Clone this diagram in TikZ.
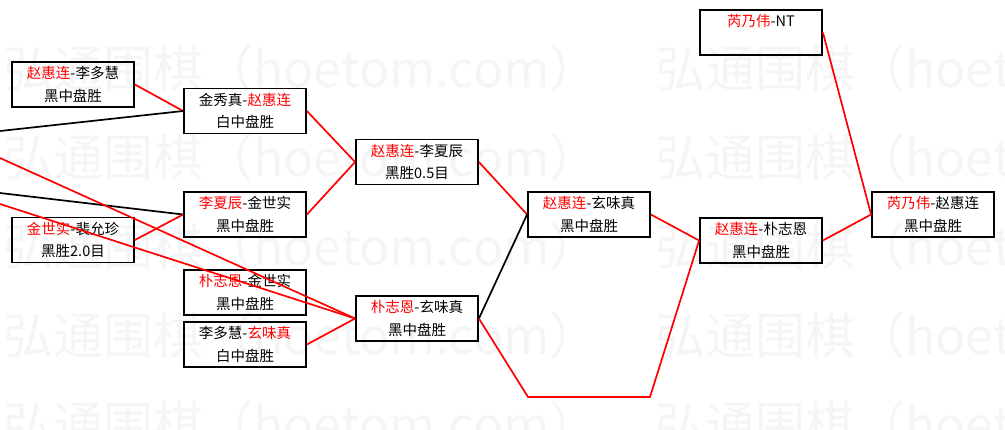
\documentclass[tikz,border=0pt]{standalone}
\usepackage{fontspec}
\newfontfamily\cjk{Noto Sans CJK SC}
\newcommand{\W}[1]{\textcolor{red}{#1}}
\begin{document}
\begin{tikzpicture}[x=1pt,y=-1pt,
  game/.style={draw=black, line width=1.8pt, minimum width=122pt, minimum height=45pt,
    inner sep=0pt, align=center, font=\cjk\fontsize{14.5}{22.5}\selectfont},
  win/.style={draw=red, line width=1.7pt},
  lose/.style={draw=black, line width=1.7pt},
  wm/.style={anchor=west, text=black!4, inner sep=0pt, font=\cjk\fontsize{50}{50}\selectfont}]
\useasboundingbox (0,0) rectangle (1005,429);
\begin{scope}
\clip (0,0) rectangle (1005,429);
\foreach \yy in {68,157,246,335,424}{
  \node[wm] (wa\yy) at (3,\yy) {弘通围棋（hoetom.com）};
  \node[wm] (wb\yy) at (655,\yy) {弘通围棋（hoetom.com）};
}
\end{scope}
% games
\node[game] (b1) at (73,84.5) {\W{赵惠连}-李多慧\\黑中盘胜};
\node[game] (b2) at (73,240) {\W{金世实}-裴允珍\\黑胜2.0目};
\node[game] (b3) at (245,111) {金秀真-\W{赵惠连}\\白中盘胜};
\node[game] (b4) at (245,214.5) {\W{李夏辰}-金世实\\黑中盘胜};
\node[game] (b5) at (245,292.5) {\W{朴志恩}-金世实\\黑中盘胜};
\node[game] (b6) at (245,344.5) {李多慧-\W{玄味真}\\白中盘胜};
\node[game] (b7) at (417,162) {\W{赵惠连}-李夏辰\\黑胜0.5目};
\node[game] (b8) at (417,318.5) {\W{朴志恩}-玄味真\\黑中盘胜};
\node[game] (b9) at (589,214.5) {\W{赵惠连}-玄味真\\黑中盘胜};
\node[game] (b10) at (761,240.5) {\W{赵惠连}-朴志恩\\黑中盘胜};
\node[game] (b11) at (761,32.5) {\W{芮乃伟}-NT\\\phantom{黑}};
\node[game] (b12) at (933,214.5) {\W{芮乃伟}-赵惠连\\黑中盘胜};
% free ends
\coordinate (l1) at (0,131);
\coordinate (l2) at (0,158);
\coordinate (l3) at (0,193);
\coordinate (l4) at (0,204);
\coordinate (c1) at (528,397);
\coordinate (c2) at (650,397);
% connectors
\draw[win] (b1.east) -- (b3.west);
\draw[lose] (l1) -- (b3.west);
\draw[lose] (l3) -- (b4.west);
\draw[win] (b2.east) -- (b4.west);
\draw[win] (l2) -- (b8.west);
\draw[win] (l4) -- (b8.west);
\draw[win] (b6.east) -- (b8.west);
\draw[win] (b3.east) -- (b7.west);
\draw[win] (b4.east) -- (b7.west);
\draw[win] (b7.east) -- (b9.west);
\draw[lose] (b8.east) -- (b9.west);
\draw[win] (b8.east) -- (c1) -- (c2) -- (b10.west);
\draw[win] (b9.east) -- (b10.west);
\draw[win] (b10.east) -- (b12.west);
\draw[win] (b11.east) -- (b12.west);
\end{tikzpicture}
\end{document}
